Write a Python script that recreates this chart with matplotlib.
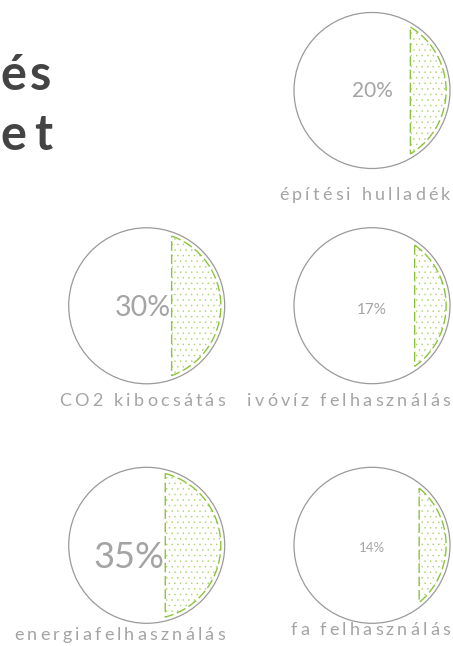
import numpy as np
import matplotlib
matplotlib.use("Agg")
import matplotlib.pyplot as plt
from matplotlib.patches import Circle, Polygon
from matplotlib.font_manager import FontProperties, findfont, get_font

W, H, DPI = 453, 646, 100
plt.rcParams["hatch.linewidth"] = 0.3

# data
labels = ["építési hulladék", "CO2 kibocsátás", "ivóvíz felhasználás",
          "energiafelhasználás", "fa felhasználás"]
values = [20, 30, 17, 35, 14]
title_parts = ["és", "et"]

# layout (pixel coords, y down)
centers = [(372, 90.5), (146.7, 305.8), (372, 305.7), (146.7, 545.3), (372, 545.3)]
radius = 78
pct_sizes = [15, 20.5, 11, 26, 9.5]
pct_align = ["center", "right", "center", "right", "center"]
pct_base = [97, 316.5, 314, 567.5, 552]
label_base = [200, 405.7, 405.7, 640, 635]

GREEN = "#8cc43c"
DOTS = "#a8d060"
GRAY = "#9a9a9a"
TXT = "#a4a4a4"
FAM = ["Lato", "DejaVu Sans"]


def segment_offset(frac, r):
    # distance of the chord from the centre so that the segment holds frac of the disc
    lo, hi = 0.0, r
    for _ in range(60):
        mid = (lo + hi) / 2
        th = 2 * np.arccos(mid / r)
        f = (th - np.sin(th)) / (2 * np.pi)
        if f > frac:
            lo = mid
        else:
            hi = mid
    return (lo + hi) / 2


def tracked(ax, s, x, y, size, track, ha="right", weight="normal", color=TXT):
    fp = FontProperties(family=FAM, weight=weight, size=size)
    font = get_font(findfont(fp))
    font.set_size(size, DPI)
    advs = [font.load_char(ord(c)).linearHoriAdvance / 65536 for c in s]
    total = sum(advs) + track * (len(s) - 1)
    pos = x - total if ha == "right" else x
    for c, a in zip(s, advs):
        if c != " ":
            ax.text(pos, y, c, fontproperties=fp, color=color,
                    ha="left", va="baseline")
        pos += a + track


fig = plt.figure(figsize=(W / DPI, H / DPI), dpi=DPI)
ax = fig.add_axes([0, 0, 1, 1])
ax.set_xlim(0, W)
ax.set_ylim(H, 0)
ax.axis("off")

for lab, val, (cx, cy), fs, al, pb, lb in zip(labels, values, centers, pct_sizes,
                                               pct_align, pct_base, label_base):
    ax.add_patch(Circle((cx, cy), radius, fill=False, edgecolor=GRAY, lw=0.9))

    d = segment_offset(val / 100, radius)
    rg = radius * 0.95
    a = np.arccos(d / rg)
    t = np.linspace(-a, a, 120)
    pts = np.column_stack([cx + rg * np.cos(t), cy + rg * np.sin(t)])
    ax.add_patch(Polygon(pts, closed=True, facecolor="none", edgecolor=DOTS,
                         lw=0, hatch="..."))
    ax.add_patch(Polygon(pts, closed=True, fill=False, edgecolor=GREEN,
                         lw=1.0, linestyle=(0, (7, 2.6))))

    px = cx if al == "center" else cx + d - 1
    ax.text(px, pb, f"{val}%", ha=al, va="baseline", fontsize=fs,
            family=FAM, color=TXT)

    tracked(ax, lab, cx + radius, lb, 13, 3.2)

tracked(ax, title_parts[0], 0, 90, 35, 4, ha="left", weight="bold", color="#444444")
tracked(ax, title_parts[1], 0, 150, 35, 8, ha="left", weight="bold", color="#444444")

fig.savefig("out.png", dpi=DPI)
